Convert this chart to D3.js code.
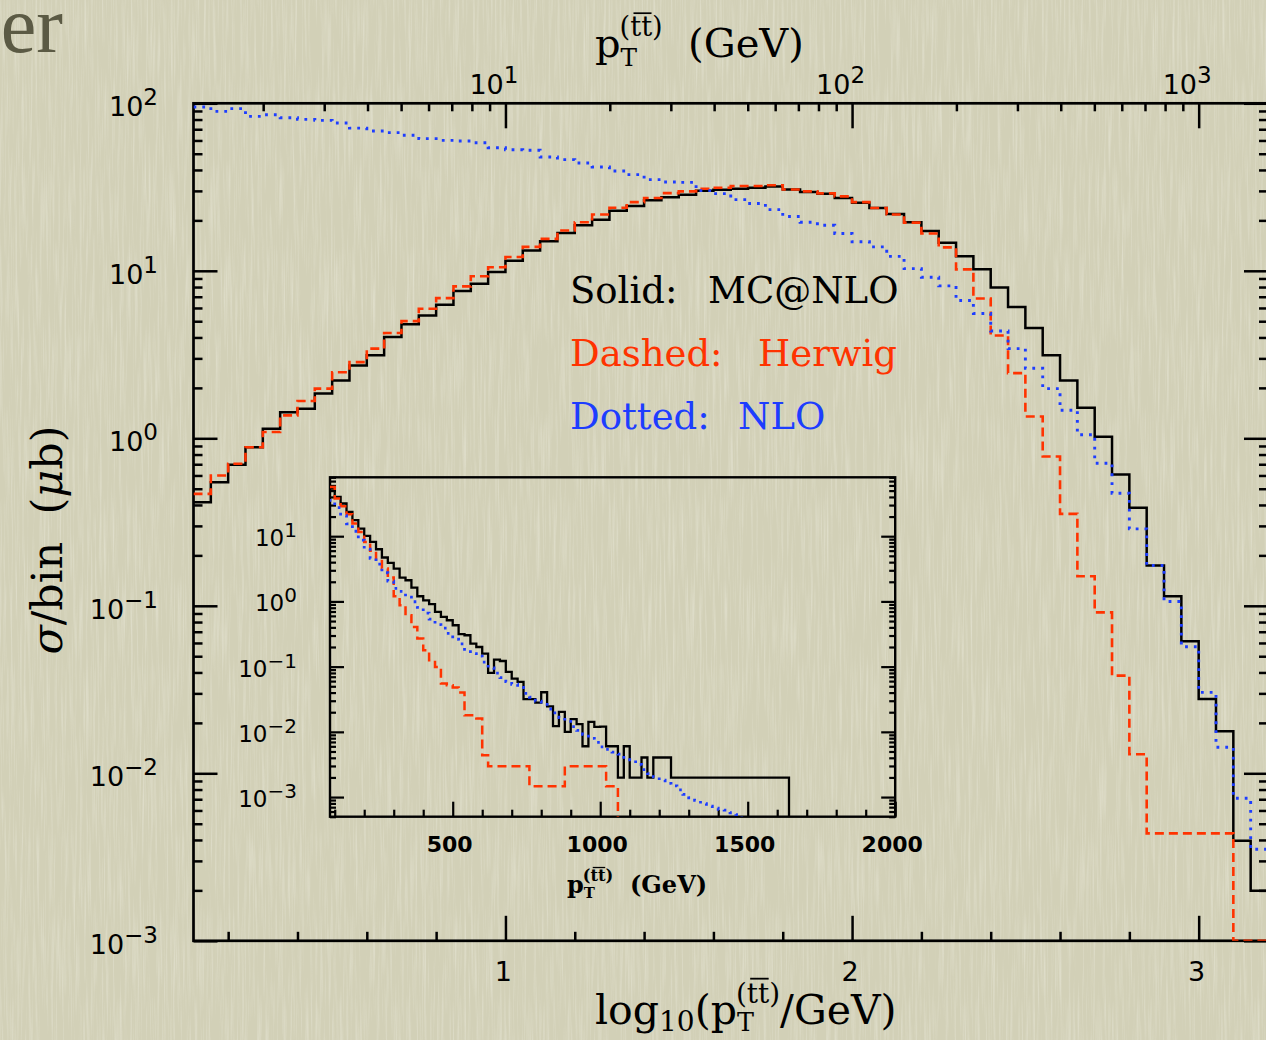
<!DOCTYPE html>
<html>
<head>
<meta charset="utf-8">
<script src="https://cdn.jsdelivr.net/npm/d3@7"></script>
<style>
  html, body { margin: 0; padding: 0; background: #d5d3bb; }
  svg { display: block; }
  text { white-space: pre; }
</style>
</head>
<body>
<script>
// ---- main plot: sigma per bin, bins in log10(pT/GeV) of width 0.05 from 0.1
var mainBinStart = 0.1;
var mainBinWidth = 0.05;
var mainMcnlo = [0.415, 0.547, 0.695, 0.885, 1.14, 1.43, 1.50, 1.85, 2.21, 2.72,
  3.13, 4.02, 4.79, 5.41, 6.27, 7.57, 8.38, 9.82, 11.5, 13.2,
  15.0, 16.8, 18.7, 20.2, 22.8, 24.4, 26.4, 27.5, 28.4, 30.1,
  30.5, 30.9, 31.3, 31.9, 30.6, 29.5, 28.8, 27.2, 25.5, 23.7,
  21.8, 19.5, 17.3, 14.7, 12.2, 10.2, 7.96, 6.07, 4.55, 3.13,
  2.21, 1.52, 1.02, 0.608, 0.385, 0.174, 0.114, 0.0614, 0.0278, 0.0178,
  0.00395, 0.00199];
var mainHerwig = [0.466, 0.600, 0.705, 0.885, 1.09, 1.37, 1.67, 1.98, 2.48, 2.85,
  3.43, 4.25, 5.01, 5.93, 6.87, 8.07, 9.27, 10.5, 12.1, 13.9,
  15.5, 17.4, 19.5, 21.7, 23.8, 25.7, 27.2, 29.1, 29.8, 30.9,
  31.3, 32.1, 32.1, 32.4, 30.6, 29.8, 29.0, 27.8, 25.7, 23.7,
  21.7, 19.4, 16.7, 13.8, 10.2, 6.84, 4.11, 2.45, 1.35, 0.778,
  0.354, 0.150, 0.0914, 0.0383, 0.0130, 0.00438, 0.00438, 0.00438, 0.00438, 0.00438,
  0, 0];
var mainNlo = [95.1, 89.5, 92.9, 83.6, 85.5, 82.0, 80.2, 79.1, 76.2, 71.1,
  68.4, 66.8, 64.4, 61.5, 60.1, 59.6, 58.2, 54.3, 52.8, 52.4,
  47.8, 46.1, 44.0, 41.7, 39.4, 37.5, 35.0, 33.9, 33.7, 30.1,
  28.9, 26.6, 25.2, 23.2, 21.1, 19.5, 18.7, 16.7, 14.9, 13.9,
  12.2, 10.3, 9.16, 8.13, 6.65, 5.56, 4.37, 3.43, 2.62, 1.98,
  1.47, 1.05, 0.710, 0.470, 0.288, 0.174, 0.106, 0.0570, 0.0304, 0.0143,
  0.00710, 0.00352];

// ---- inset: same thing against linear pT, bins of 20 GeV from 80 GeV
var insetBinStart = 80;
var insetBinWidth = 20;
var insetMcnlo = [53.8, 40.1, 31.7, 23.6, 17.6, 13.1, 10.1, 8.18, 6.31, 4.71,
  3.90, 3.19, 2.32, 2.11, 1.63, 1.20, 1.04, 0.906, 0.690, 0.578,
  0.514, 0.431, 0.314, 0.303, 0.226, 0.200, 0.158, 0.0801, 0.128, 0.122,
  0.0830, 0.0656, 0.0583, 0.0318, 0.0318, 0.0280, 0.0405, 0.0245, 0.0122, 0.0202,
  0.00998, 0.0157, 0.0131, 0.00601, 0.0142, 0.0119, 0.0120, 0.00601, 0.00601, 0.00199,
  0.00601, 0.00199, 0.00199, 0.00404, 0.00199, 0.00404, 0.00404, 0.00404, 0.00199, 0.00199,
  0.00199, 0.00199, 0.00199, 0.00199, 0.00199, 0.00199, 0.00199, 0.00199, 0.00199, 0.00199,
  0.00199, 0.00199, 0.00199, 0.00199, 0.00199, 0.00199, 0.00199, 0.00199];
var insetHerwig = [57.0, 37.8, 28.8, 21.7, 15.6, 11.6, 8.18, 5.96, 4.38, 3.19,
  2.32, 1.20, 0.875, 0.614, 0.407, 0.269, 0.178, 0.125, 0.0991, 0.0550,
  0.0518, 0.0480, 0.0400, 0.0179, 0.0179, 0.0160, 0.00437, 0.00297, 0.00297, 0.00297,
  0.00297, 0.00297, 0.00297, 0.00297, 0.00147, 0.00147, 0.00147, 0.00147, 0.00147, 0.00147,
  0.00297, 0.00297, 0.00297, 0.00297, 0.00297, 0.00297, 0.00297, 0.00147, 0.00147];
var insetNlo = [35.5, 27.5, 20.7, 15.5, 11.9, 8.71, 6.31, 4.57, 3.72, 2.75,
  2.04, 1.58, 1.43, 1.16, 0.989, 0.813, 0.661, 0.537, 0.442, 0.389,
  0.324, 0.263, 0.224, 0.184, 0.158, 0.145, 0.117, 0.0955, 0.0794, 0.0676,
  0.0589, 0.0537, 0.0479, 0.0389, 0.0339, 0.0295, 0.0263, 0.0224, 0.0195, 0.0166,
  0.0145, 0.0120, 0.0105, 0.00912, 0.00794, 0.00692, 0.00589, 0.00537, 0.00490, 0.00457,
  0.00407, 0.00372, 0.00316, 0.00263, 0.00229, 0.00204, 0.00182, 0.00162, 0.00148, 0.00129,
  0.00110, 0.000977, 0.000891, 0.000794, 0.000724, 0.000676, 0.000646, 0.000631, 0.000575, 0.000537];

// tick labels
var mainYExp = [-3, -2, -1, 0, 1, 2];
var mainXLabels = [1, 2, 3];
var topXExp = [1, 2, 3];
var insetYExp = [-3, -2, -1, 0, 1];
var insetXLabels = [500, 1000, 1500, 2000];
var legendKeys = ['Solid:', 'Dashed:', 'Dotted:'];
var legendNames = ['MC@NLO', 'Herwig', 'NLO'];

var w = 1266, h = 1040;
var red = '#ff3300', blue = '#1d3dff';
var numFont = 'DejaVu Sans';
var serif = 'DejaVu Serif';

var svg = d3.select('body').append('svg')
  .attr('width', w)
  .attr('height', h);

// paper background with fine vertical fibres
var defs = svg.append('defs');
var paper = defs.append('filter').attr('id', 'paper')
  .attr('x', 0).attr('y', 0).attr('width', '100%').attr('height', '100%');
paper.append('feTurbulence')
  .attr('type', 'fractalNoise')
  .attr('baseFrequency', '0.45 0.012')
  .attr('numOctaves', 3)
  .attr('seed', 7);
paper.append('feColorMatrix')
  .attr('type', 'matrix')
  .attr('values', '0 0 0 0 1  0 0 0 0 1  0 0 0 0 0.95  1.6 0 0 0 -0.72');
svg.append('rect').attr('width', w).attr('height', h).attr('fill', '#d2d0b7');
svg.append('rect').attr('width', w).attr('height', h)
  .attr('filter', 'url(#paper)').attr('opacity', 0.4);

// stray slide title fragment
svg.append('text')
  .attr('x', 63).attr('y', 52)
  .attr('text-anchor', 'end')
  .attr('font-family', 'Liberation Serif')
  .attr('font-size', 80)
  .attr('fill', '#5b5a44')
  .text('er');

// ---------- scales
var mx = d3.scaleLinear().domain([0.1, 3.2]).range([193.5, 1268]);
var my = d3.scaleLog().domain([1e-3, 1e2]).range([940.8, 103.3]).clamp(true);
var ix = d3.scaleLinear().domain([84, 2000]).range([330, 895.2]);
var iy = d3.scaleLog().domain([5e-4, 80]).range([816.7, 477.3]).clamp(true);

function isDecade(v) {
  var l = Math.log10(v);
  return Math.abs(l - Math.round(l)) < 1e-9;
}

function tickAxis(g, axisFn, scale, values, size, width) {
  g.call(axisFn(scale).tickValues(values).tickSize(size).tickSizeOuter(0).tickFormat(''));
  g.select('.domain').remove();
  g.selectAll('line').attr('stroke', '#000').attr('stroke-width', width);
}

function stepPoints(vals, start, width, dropAtEnd) {
  var pts = [];
  vals.forEach(function(v, i) {
    var lo = start + i * width;
    pts.push([lo, v]);
    pts.push([lo + width, v]);
  });
  if (dropAtEnd) pts.push([start + vals.length * width, 0]);
  return pts;
}

function stepLine(sx, sy) {
  return d3.line()
    .x(function(d) { return sx(d[0]); })
    .y(function(d) { return d[1] > 0 ? sy(d[1]) : sy.range()[0]; });
}

function powLabel(t, k, supSize, supDy) {
  t.append('tspan').text('10');
  t.append('tspan')
    .attr('font-size', supSize)
    .attr('dy', supDy)
    .text(k < 0 ? '\u2212' + (-k) : String(k));
}

// p_T^(t tbar) written as text with a stacked sub/superscript
function ptText(t, size, subDrop) {
  t.append('tspan').text('p');
  var sub = t.append('tspan').attr('font-size', size * 0.62).attr('dy', size * subDrop).text('T');
  var sup = t.append('tspan').attr('font-size', size * 0.68).attr('dy', -size * (subDrop + 0.52)).text('(tt)');
  sup.attr('dx', -sub.node().getComputedTextLength() - 1);
  return size * 0.52; // dy needed to come back to the baseline
}

function overlineTT(g, t) {
  var node = t.node();
  var i = node.textContent.indexOf('(tt)') + 1;
  var a = node.getExtentOfChar(i), b = node.getExtentOfChar(i + 1);
  g.append('line')
    .attr('x1', a.x + a.width * 0.3).attr('x2', b.x + b.width * 0.95)
    .attr('y1', a.y + 2).attr('y2', a.y + 2)
    .attr('stroke', '#000')
    .attr('stroke-width', Math.max(1.3, a.height * 0.055));
}

// ---------- main plot
var main = svg.append('g');
defs.append('clipPath').attr('id', 'clipMain')
  .append('rect')
  .attr('x', mx.range()[0]).attr('y', my.range()[1])
  .attr('width', mx.range()[1] - mx.range()[0])
  .attr('height', my.range()[0] - my.range()[1]);

var yAll = my.ticks();
var yMajor = yAll.filter(isDecade);
var yMinor = yAll.filter(function(v) { return !isDecade(v); });
var xMinor = mx.ticks(15).filter(function(v) {
  return Math.abs(v - Math.round(v)) > 1e-6 && v < 3.15;
});
var topAll = d3.scaleLog().domain([Math.pow(10, 0.1), Math.pow(10, 3.2)]).ticks();
var topMajor = topAll.filter(isDecade).map(Math.log10);
var topMinor = topAll.filter(function(v) { return !isDecade(v); }).map(Math.log10);

tickAxis(main.append('g').attr('transform', 'translate(' + mx.range()[0] + ',0)'), d3.axisLeft, my, yMajor, -24, 2.5);
tickAxis(main.append('g').attr('transform', 'translate(' + mx.range()[0] + ',0)'), d3.axisLeft, my, yMinor, -9, 2.5);
tickAxis(main.append('g').attr('transform', 'translate(' + mx.range()[1] + ',0)'), d3.axisRight, my, yMajor, -24, 2.5);
tickAxis(main.append('g').attr('transform', 'translate(' + mx.range()[1] + ',0)'), d3.axisRight, my, yMinor, -9, 2.5);
tickAxis(main.append('g').attr('transform', 'translate(0,' + my.range()[0] + ')'), d3.axisBottom, mx, mainXLabels, -25, 2.5);
tickAxis(main.append('g').attr('transform', 'translate(0,' + my.range()[0] + ')'), d3.axisBottom, mx, xMinor, -9, 2.5);
tickAxis(main.append('g').attr('transform', 'translate(0,' + my.range()[1] + ')'), d3.axisTop, mx, topMajor, -25, 2.5);
tickAxis(main.append('g').attr('transform', 'translate(0,' + my.range()[1] + ')'), d3.axisTop, mx, topMinor, -8, 2.5);

main.append('rect')
  .attr('x', mx.range()[0]).attr('y', my.range()[1])
  .attr('width', mx.range()[1] - mx.range()[0])
  .attr('height', my.range()[0] - my.range()[1])
  .attr('fill', 'none').attr('stroke', '#000').attr('stroke-width', 2.7);

var mainCurves = main.append('g').attr('clip-path', 'url(#clipMain)');
var mline = stepLine(mx, my);
mainCurves.append('path')
  .attr('d', mline(stepPoints(mainMcnlo, mainBinStart, mainBinWidth)))
  .attr('fill', 'none').attr('stroke', '#000').attr('stroke-width', 2.5);
mainCurves.append('path')
  .attr('d', mline(stepPoints(mainHerwig, mainBinStart, mainBinWidth)))
  .attr('fill', 'none').attr('stroke', red).attr('stroke-width', 2.6)
  .attr('stroke-dasharray', '9,5');
mainCurves.append('path')
  .attr('d', mline(stepPoints(mainNlo, mainBinStart, mainBinWidth)))
  .attr('fill', 'none').attr('stroke', blue).attr('stroke-width', 2.9)
  .attr('stroke-dasharray', '2.8,6');

// main tick labels
mainYExp.forEach(function(k) {
  var t = main.append('text')
    .attr('x', 158).attr('y', my(Math.pow(10, k)) + 13)
    .attr('text-anchor', 'end')
    .attr('font-family', numFont).attr('font-size', 27);
  powLabel(t, k, 23, -11);
});
mainXLabels.forEach(function(v) {
  main.append('text')
    .attr('x', mx(v) - 2).attr('y', 981)
    .attr('text-anchor', 'middle')
    .attr('font-family', numFont).attr('font-size', 27)
    .text(v);
});
topXExp.forEach(function(k) {
  var t = main.append('text')
    .attr('x', mx(k) + 13).attr('y', 94)
    .attr('text-anchor', 'end')
    .attr('font-family', numFont).attr('font-size', 27);
  powLabel(t, k, 23, -11);
});

// axis titles
var topTitle = main.append('text')
  .attr('x', 595).attr('y', 57)
  .attr('font-family', serif).attr('font-size', 40);
var back = ptText(topTitle, 40, 0.22);
topTitle.append('tspan').attr('dy', back).text('  (GeV)');
overlineTT(main, topTitle);

var botTitle = main.append('text')
  .attr('x', 595).attr('y', 1024)
  .attr('font-family', serif).attr('font-size', 41);
botTitle.append('tspan').text('log');
botTitle.append('tspan').attr('font-size', 28).attr('dy', 7).text('10');
botTitle.append('tspan').attr('dy', -7).text('(');
back = ptText(botTitle, 41, 0.17);
botTitle.append('tspan').attr('dy', back).text('/GeV)');
overlineTT(main, botTitle);

var yTitle = main.append('text')
  .attr('transform', 'translate(62,540) rotate(-90)')
  .attr('text-anchor', 'middle')
  .attr('font-family', serif).attr('font-size', 43);
yTitle.append('tspan').attr('font-style', 'italic').text('\u03c3');
yTitle.append('tspan').text('/bin  (');
yTitle.append('tspan').attr('font-style', 'italic').text('\u03bc');
yTitle.append('tspan').text('b)');

// legend: key word, then the generator name
var legendColors = ['#000', red, blue];
var legendNameX = [708, 758, 738];
legendKeys.forEach(function(s, i) {
  var t = main.append('text')
    .attr('y', 303 + i * 63)
    .attr('font-family', serif).attr('font-size', 37)
    .attr('fill', legendColors[i]);
  t.append('tspan').attr('x', 570).text(s);
  t.append('tspan').attr('x', legendNameX[i]).text(legendNames[i]);
});

// ---------- inset
var inset = svg.append('g');
defs.append('clipPath').attr('id', 'clipInset')
  .append('rect')
  .attr('x', ix.range()[0]).attr('y', iy.range()[1])
  .attr('width', ix.range()[1] - ix.range()[0])
  .attr('height', iy.range()[0] - iy.range()[1]);

var iyAll = iy.ticks();
var iyMajor = iyAll.filter(isDecade);
var iyMinor = iyAll.filter(function(v) { return !isDecade(v); });
var ixMinor = ix.ticks(20).filter(function(v) { return v % 500 !== 0; });

tickAxis(inset.append('g').attr('transform', 'translate(' + ix.range()[0] + ',0)'), d3.axisLeft, iy, iyMajor, -14, 2.2);
tickAxis(inset.append('g').attr('transform', 'translate(' + ix.range()[0] + ',0)'), d3.axisLeft, iy, iyMinor, -6, 2.2);
tickAxis(inset.append('g').attr('transform', 'translate(' + ix.range()[1] + ',0)'), d3.axisRight, iy, iyMajor, -14, 2.2);
tickAxis(inset.append('g').attr('transform', 'translate(' + ix.range()[1] + ',0)'), d3.axisRight, iy, iyMinor, -6, 2.2);
tickAxis(inset.append('g').attr('transform', 'translate(0,' + iy.range()[0] + ')'), d3.axisBottom, ix, insetXLabels, -15, 2.2);
tickAxis(inset.append('g').attr('transform', 'translate(0,' + iy.range()[0] + ')'), d3.axisBottom, ix, ixMinor, -7, 2.2);

inset.append('rect')
  .attr('x', ix.range()[0]).attr('y', iy.range()[1])
  .attr('width', ix.range()[1] - ix.range()[0])
  .attr('height', iy.range()[0] - iy.range()[1])
  .attr('fill', 'none').attr('stroke', '#000').attr('stroke-width', 2.4);

var insetCurves = inset.append('g').attr('clip-path', 'url(#clipInset)');
var iline = stepLine(ix, iy);
insetCurves.append('path')
  .attr('d', iline(stepPoints(insetMcnlo, insetBinStart, insetBinWidth, true)))
  .attr('fill', 'none').attr('stroke', '#000').attr('stroke-width', 2.3);
insetCurves.append('path')
  .attr('d', iline(stepPoints(insetHerwig, insetBinStart, insetBinWidth, true)))
  .attr('fill', 'none').attr('stroke', red).attr('stroke-width', 2.5)
  .attr('stroke-dasharray', '9,5');
insetCurves.append('path')
  .attr('d', iline(stepPoints(insetNlo, insetBinStart, insetBinWidth, true)))
  .attr('fill', 'none').attr('stroke', blue).attr('stroke-width', 2.8)
  .attr('stroke-dasharray', '2.6,5.5');

insetYExp.forEach(function(k) {
  var t = inset.append('text')
    .attr('x', 297).attr('y', iy(Math.pow(10, k)) + 10)
    .attr('text-anchor', 'end')
    .attr('font-family', numFont).attr('font-size', 23);
  powLabel(t, k, 20, -9);
});
insetXLabels.forEach(function(v) {
  inset.append('text')
    .attr('x', ix(v) - 3).attr('y', 852)
    .attr('text-anchor', 'middle')
    .attr('font-family', numFont).attr('font-weight', 'bold').attr('font-size', 22)
    .text(v);
});
var insetTitle = inset.append('text')
  .attr('x', 567).attr('y', 893)
  .attr('font-family', serif).attr('font-weight', 'bold').attr('font-size', 24);
back = ptText(insetTitle, 24, 0.22);
insetTitle.append('tspan').attr('dy', back).text('  (GeV)');
overlineTT(inset, insetTitle);
</script>
</body>
</html>
